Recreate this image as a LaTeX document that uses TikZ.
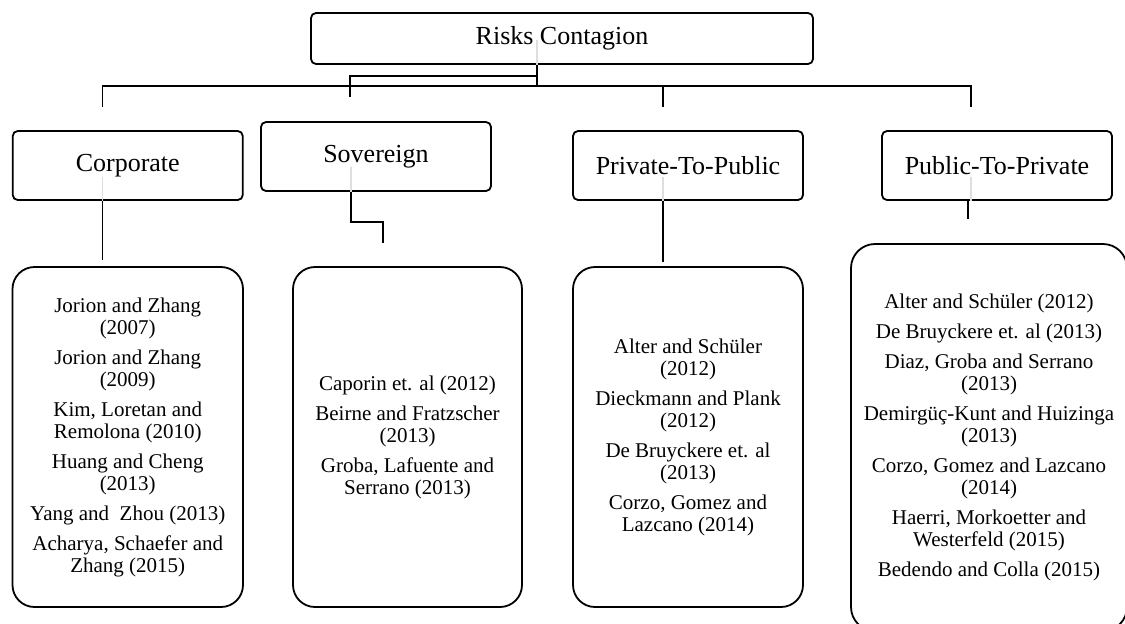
\documentclass[tikz,border=0pt]{standalone}
\usepackage{fontspec}
\setmainfont{Liberation Serif}
\begin{document}
\begin{tikzpicture}[x=0.5pt,y=-0.5pt,
  line width=0.9pt,
  headbox/.style={draw, rounded corners=2.5pt, inner sep=0pt, minimum height=34.5pt,
    minimum width=115pt, font=\fontsize{13}{15}\selectfont},
  listbox/.style={draw, rounded corners=11pt, inner sep=0pt, align=center,
    font=\fontsize{10.5}{11}\selectfont},
  link/.style={draw, line width=0.9pt},
  ghost/.style={draw=black!13, line width=0.8pt}]
\useasboundingbox (0,0) rectangle (1125,623);

% top of the tree
\node[headbox, minimum width=251pt, minimum height=25.5pt] (root) at (562,38.5) {Risks Contagion};

% category boxes
\node[headbox] (corp) at (127.75,165.5) {Corporate};
\node[headbox] (sov)  at (376,156.5)    {Sovereign};
\node[headbox] (priv) at (688,165.5)    {Private-To-Public};
\node[headbox] (pub)  at (997,165.5)    {Public-To-Private};

% literature boxes
\node[listbox, minimum width=115.25pt, minimum height=170pt] (lcorp) at (127.75,437) {%
  Jorion and Zhang\\(2007)\\[4pt]
  Jorion and Zhang\\(2009)\\[4pt]
  Kim, Loretan and\\Remolona (2010)\\[4pt]
  Huang and Cheng\\(2013)\\[4pt]
  Yang and\ \ Zhou (2013)\\[4pt]
  Acharya, Schaefer and\\Zhang (2015)};
\node[listbox, minimum width=114.5pt, minimum height=170pt] (lsov) at (407.5,437) {%
  Caporin et. al (2012)\\[4pt]
  Beirne and Fratzscher\\(2013)\\[4pt]
  Groba, Lafuente and\\Serrano (2013)};
\node[listbox, minimum width=115pt, minimum height=170pt] (lpriv) at (688,437) {%
  Alter and Schüler\\(2012)\\[4pt]
  Dieckmann and Plank\\(2012)\\[4pt]
  De Bruyckere et. al\\(2013)\\[4pt]
  Corzo, Gomez and\\Lazcano (2014)};
\node[listbox, rounded corners=12pt, minimum width=138pt, minimum height=193.5pt] (lpub) at (989,437.5) {%
  Alter and Schüler (2012)\\[4pt]
  De Bruyckere et. al (2013)\\[4pt]
  Diaz, Groba and Serrano\\(2013)\\[4pt]
  Demirgüç-Kunt and Huizinga\\(2013)\\[4pt]
  Corzo, Gomez and Lazcano\\(2014)\\[4pt]
  Haerri, Morkoetter and\\Westerfeld (2015)\\[4pt]
  Bedendo and Colla (2015)};

% junction points of the connectors
\coordinate (hubA) at (537,76);
\coordinate (hubB) at (537,86);
\coordinate (sovTop)  at (350,97);
\coordinate (corpTop) at (102.5,107);
\coordinate (privTop) at (663,107);
\coordinate (pubTop)  at (971,107);
\coordinate (corpEnd) at (102.5,260);
\coordinate (sovBend) at (351,222);
\coordinate (sovEnd)  at (383,243);
\coordinate (privEnd) at (663,262);
\coordinate (pubEnd)  at (968,219);

% faint traces of the connectors behind the boxes
\path[ghost] (537,40) -- (root.south -| hubB);
\path[ghost] (102.5,177) -- (corp.south -| corpTop);
\path[ghost] (351,167) -- (sov.south -| sovBend);
\path[ghost] (663,177) -- (priv.south -| privTop);
\path[ghost] (971,177) -- (pub.south -| pubTop);

% branches from the root
\path[link] (root.south -| hubB) -- (hubB);
\path[link] (hubA) -| (sovTop);
\path[link] (corpTop) |- (hubB) -| (pubTop);
\path[link] (privTop) -- (privTop |- hubB);

% from categories to their literature
\path[link] (corp.south -| corpEnd) -- (corpEnd);
\path[link] (sov.south -| sovBend) -- (sovBend) -| (sovEnd);
\path[link] (priv.south -| privEnd) -- (privEnd);
\path[link] (pub.south -| pubEnd) -- (pubEnd);
\end{tikzpicture}
\end{document}
